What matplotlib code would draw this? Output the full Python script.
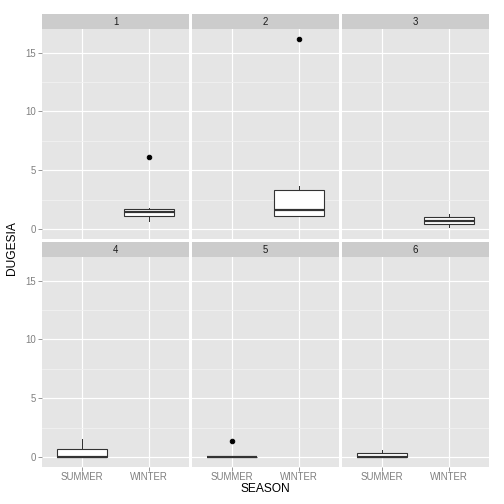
import numpy as np
import matplotlib
matplotlib.use('Agg')
import matplotlib.pyplot as plt

plt.rcParams['font.family'] = ['Liberation Sans', 'DejaVu Sans']

# data (one box per facet)
facets = ['1', '2', '3', '4', '5', '6']
seasons = ['SUMMER', 'WINTER']
box_season = ['WINTER', 'WINTER', 'WINTER', 'SUMMER', 'SUMMER', 'SUMMER']
whislo = [0.70, 1.07, 0.17, 0.0, 0.0, 0.0]
q1 = [1.13, 1.07, 0.40, 0.0, 0.0, 0.0]
med = [1.41, 1.61, 0.70, 0.0, 0.0, 0.03]
q3 = [1.67, 3.28, 1.04, 0.70, 0.0, 0.37]
whishi = [1.75, 3.67, 1.24, 1.55, 0.0, 0.62]
outliers = [[6.13], [16.16], [], [], [1.35], []]

yticks = [0, 5, 10, 15]
yminor = [2.5, 7.5, 12.5]

W = H = 504
fig = plt.figure(figsize=(7, 7), dpi=72)

col_x = [42, 192, 342]          # panel left edges (px)
pw = 147
row_top = [29, 257]             # panel top edges (px)
ph = 209.5
strip_h = 15

grey50 = '#7F7F7F'
edge = '#333333'

for i, name in enumerate(facets):
    r, c = divmod(i, 3)
    x0 = col_x[c]
    top = row_top[r]
    ax = fig.add_axes([x0 / W, (H - top - ph) / H, pw / W, ph / H])
    ax.set_facecolor('#E5E5E5')

    pos = seasons.index(box_season[i]) + 1
    st = [dict(whislo=whislo[i], q1=q1[i], med=med[i], q3=q3[i],
               whishi=whishi[i], fliers=outliers[i])]
    ax.bxp(st, positions=[pos], widths=0.75, patch_artist=True,
           showcaps=False,
           boxprops=dict(facecolor='white', edgecolor=edge, linewidth=1.1),
           medianprops=dict(color=edge, linewidth=2.2),
           whiskerprops=dict(color=edge, linewidth=1.0),
           flierprops=dict(marker='o', markerfacecolor='black',
                           markeredgecolor='black', markersize=4.5),
           zorder=3)

    ax.set_xlim(0.4, 2.6)
    ax.set_ylim(-0.81, 17.01)
    ax.set_xticks([1, 2])
    ax.set_xticklabels(seasons)
    ax.set_yticks(yticks)
    ax.set_yticks(yminor, minor=True)
    ax.grid(which='major', color='white', linewidth=1.2, zorder=0)
    ax.grid(which='minor', axis='y', color='#F2F2F2', linewidth=0.8, zorder=0)
    ax.set_axisbelow(True)
    for s in ax.spines.values():
        s.set_visible(False)

    ax.tick_params(which='minor', length=0)
    ax.tick_params(axis='both', which='major', colors=grey50, labelcolor=grey50,
                   labelsize=9.6, length=4, width=0.8, pad=2)
    if c != 0:
        ax.tick_params(axis='y', length=0, labelleft=False)
    if r != 1:
        ax.tick_params(axis='x', length=0, labelbottom=False)

    # facet strip
    sax = fig.add_axes([x0 / W, (H - top) / H, pw / W, strip_h / H])
    sax.set_facecolor('#CCCCCC')
    sax.set_xticks([])
    sax.set_yticks([])
    for s in sax.spines.values():
        s.set_visible(False)
    sax.text(0.5, 0.45, name, ha='center', va='center', fontsize=9.6,
             color='#1A1A1A', transform=sax.transAxes)

fig.text(265 / W, 1 - 489 / H, 'SEASON', ha='center', va='center', fontsize=12)
fig.text(12 / W, 1 - 248 / H, 'DUGESIA', ha='center', va='center',
         fontsize=12, rotation=90)

fig.savefig('out.png', dpi=72, facecolor='white')
